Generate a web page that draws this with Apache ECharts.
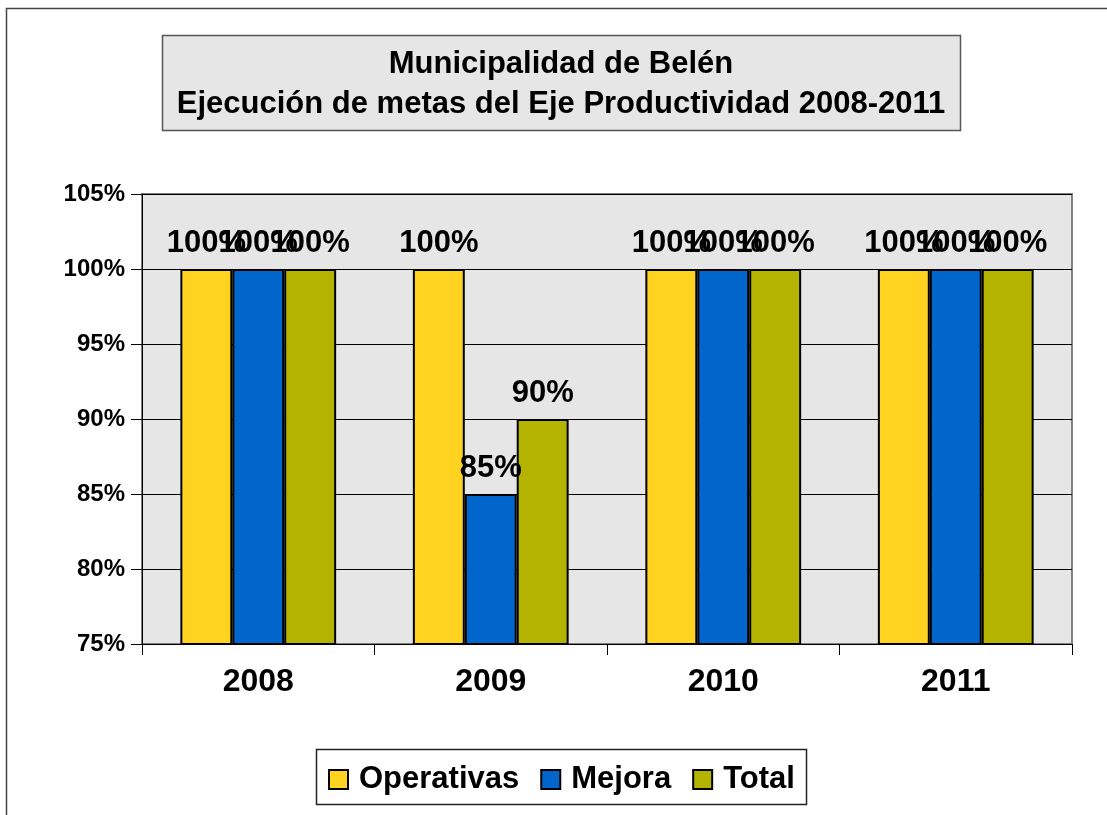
<!DOCTYPE html>
<html>
<head>
<meta charset="utf-8">
<script src="https://cdn.jsdelivr.net/npm/echarts@6/dist/echarts.min.js"></script>
<style>
  html, body { margin: 0; padding: 0; background: #fff; }
  #chart { width: 1107px; height: 815px; }
</style>
</head>
<body>
<div id="chart"></div>
<script>
// datos del gráfico
const years = ['2008', '2009', '2010', '2011']
const operativas = [100, 100, 100, 100]
const mejora = [100, 85, 100, 100]
const total = [100, 90, 100, 100]
const seriesNames = ['Operativas', 'Mejora', 'Total']
const colors = ['#FFD320', '#0066CC', '#B3B300']

const font = 'Liberation Sans, Arial, sans-serif'

function makeBar(name, data, color) {
  return {
    name: name,
    type: 'bar',
    data: data,
    barGap: 0,
    barCategoryGap: '33%',
    itemStyle: { color: color, borderColor: '#000', borderWidth: 2 },
    label: {
      show: true,
      position: 'top',
      distance: 10,
      formatter: '{c}%',
      color: '#000',
      fontSize: 31,
      fontWeight: 'bold',
      fontFamily: font
    }
  }
}

const chart = echarts.init(document.getElementById('chart'))
const option = {
  animation: false,
  backgroundColor: '#fff',
  graphic: [
    // marco exterior
    { type: 'rect', z: -10, shape: { x: 6.5, y: 8.5, width: 1300, height: 1000 },
      style: { fill: '#fff', stroke: '#444', lineWidth: 1.5 } },
    // caja del título
    { type: 'rect', z: -5, shape: { x: 162.5, y: 35.5, width: 798, height: 95 },
      style: { fill: '#E6E6E6', stroke: '#555', lineWidth: 1.5 } },
    // caja de la leyenda
    { type: 'rect', z: -5, shape: { x: 316.5, y: 749.5, width: 490, height: 55 },
      style: { fill: '#fff', stroke: '#222', lineWidth: 1.5 } }
  ],
  title: {
    text: 'Municipalidad de Belén\nEjecución de metas del Eje Productividad 2008-2011',
    left: 561,
    textAlign: 'center',
    top: 44,
    padding: 0,
    textStyle: {
      fontSize: 31,
      lineHeight: 40,
      fontWeight: 'bold',
      color: '#000',
      fontFamily: font
    }
  },
  legend: {
    data: seriesNames,
    left: 328,
    top: 764,
    padding: 0,
    itemWidth: 19,
    itemHeight: 19,
    itemGap: 21,
    icon: 'rect',
    textStyle: {
      fontSize: 31,
      fontWeight: 'bold',
      color: '#000',
      fontFamily: font,
      padding: [0, 0, 0, 6]
    }
  },
  grid: {
    left: 142,
    right: 35,
    top: 194,
    bottom: 171,
    show: true,
    backgroundColor: '#E6E6E6',
    borderColor: '#808080',
    borderWidth: 2
  },
  xAxis: {
    type: 'category',
    data: years,
    axisLine: { lineStyle: { color: '#000', width: 1 } },
    axisTick: { show: true, alignWithLabel: false, length: 11, lineStyle: { color: '#000' } },
    axisLabel: {
      margin: 22,
      fontSize: 32,
      fontWeight: 'bold',
      color: '#000',
      fontFamily: font
    }
  },
  yAxis: {
    type: 'value',
    min: 75,
    max: 105,
    interval: 5,
    axisLine: { show: true, lineStyle: { color: '#000', width: 1 } },
    axisTick: { show: true, length: 11, lineStyle: { color: '#000' } },
    splitLine: { show: true, lineStyle: { color: '#000', width: 1 } },
    axisLabel: {
      formatter: '{value}%',
      margin: 17,
      fontSize: 24,
      fontWeight: 'bold',
      color: '#000',
      fontFamily: font
    }
  },
  series: [
    makeBar(seriesNames[0], operativas, colors[0]),
    makeBar(seriesNames[1], mejora, colors[1]),
    makeBar(seriesNames[2], total, colors[2])
  ]
}
chart.setOption(option)
</script>
</body>
</html>
